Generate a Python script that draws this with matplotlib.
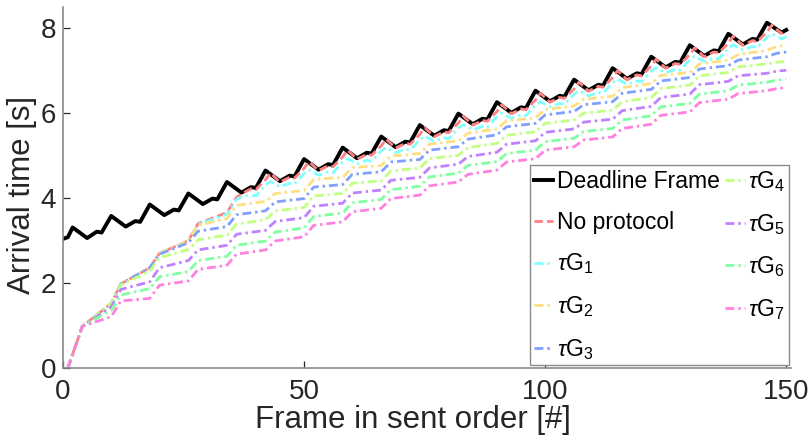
import matplotlib
matplotlib.use('Agg')
import matplotlib.pyplot as plt

plt.rcParams['font.family'] = ['Liberation Sans', 'DejaVu Sans']
plt.rcParams['mathtext.fontset'] = 'custom'
plt.rcParams['mathtext.rm'] = 'Liberation Sans'
plt.rcParams['mathtext.it'] = 'Liberation Sans:italic'

#%% Data: arrival time [s] per frame in sent order

# Deadline of each frame (GOP of 8, I-frame peaks)
deadline_frames = [0, 1, 2, 5, 7, 8,
                   10, 13, 15, 16, 18, 21, 23, 24, 26, 29, 31, 32,
                   34, 37, 39, 40, 42, 45, 47, 48, 50, 53, 55, 56,
                   58, 61, 63, 64, 66, 69, 71, 72, 74, 77, 79, 80,
                   82, 85, 87, 88, 90, 93, 95, 96, 98, 101, 103, 104,
                   106, 109, 111, 112, 114, 117, 119, 120, 122, 125, 127, 128,
                   130, 133, 135, 136, 138, 141, 143, 144, 146, 149, 150]
deadline = [3.04, 3.08, 3.31, 3.06, 3.21, 3.19,
            3.58, 3.33, 3.46, 3.44, 3.85, 3.60, 3.73, 3.71, 4.11, 3.86, 3.99, 3.97,
            4.38, 4.13, 4.26, 4.24, 4.65, 4.40, 4.53, 4.51, 4.92, 4.67, 4.80, 4.78,
            5.19, 4.94, 5.07, 5.05, 5.45, 5.20, 5.33, 5.31, 5.72, 5.47, 5.60, 5.58,
            5.99, 5.74, 5.87, 5.85, 6.26, 6.01, 6.14, 6.12, 6.53, 6.28, 6.41, 6.39,
            6.79, 6.54, 6.67, 6.65, 7.06, 6.81, 6.94, 6.92, 7.33, 7.08, 7.21, 7.19,
            7.60, 7.35, 7.48, 7.46, 7.87, 7.62, 7.75, 7.73, 8.13, 7.90, 7.96]

# No protocol and tauG1 share these frames
near_frames = [1, 4, 10, 12, 18, 20, 26, 28, 34, 36, 37, 39, 40,
               42, 43, 45, 47, 48, 50, 51, 53, 55, 56,
               58, 59, 61, 63, 64, 66, 67, 69, 71, 72,
               74, 75, 77, 79, 80, 82, 83, 85, 87, 88,
               90, 91, 93, 95, 96, 98, 99, 101, 103, 104,
               106, 107, 109, 111, 112, 114, 115, 117, 119, 120,
               122, 123, 125, 127, 128, 130, 131, 133, 135, 136,
               138, 139, 141, 143, 144, 146, 147, 149, 150]
no_protocol = [0.00, 0.98, 1.52, 1.98, 2.36, 2.70, 3.00, 3.40, 3.66, 4.02, 4.10, 4.22, 4.20,
               4.43, 4.59, 4.38, 4.49, 4.47, 4.70, 4.86, 4.65, 4.76, 4.74,
               4.97, 5.13, 4.92, 5.03, 5.01, 5.23, 5.39, 5.18, 5.29, 5.27,
               5.50, 5.66, 5.45, 5.56, 5.54, 5.77, 5.93, 5.72, 5.83, 5.81,
               6.04, 6.20, 5.99, 6.10, 6.08, 6.31, 6.47, 6.26, 6.37, 6.35,
               6.57, 6.73, 6.52, 6.63, 6.61, 6.84, 7.00, 6.79, 6.90, 6.88,
               7.11, 7.27, 7.06, 7.17, 7.15, 7.38, 7.54, 7.33, 7.44, 7.42,
               7.65, 7.81, 7.60, 7.71, 7.69, 7.91, 8.07, 7.88, 7.93]
tau_g1 = [0.00, 0.98, 1.52, 1.98, 2.36, 2.70, 3.00, 3.38, 3.62, 3.97, 4.03, 4.07, 4.05,
          4.31, 4.39, 4.27, 4.35, 4.33, 4.58, 4.66, 4.54, 4.62, 4.60,
          4.85, 4.93, 4.81, 4.89, 4.87, 5.11, 5.19, 5.07, 5.15, 5.13,
          5.38, 5.46, 5.34, 5.42, 5.40, 5.65, 5.73, 5.61, 5.69, 5.67,
          5.92, 6.00, 5.88, 5.96, 5.94, 6.19, 6.27, 6.15, 6.23, 6.21,
          6.45, 6.53, 6.41, 6.49, 6.47, 6.72, 6.80, 6.68, 6.76, 6.74,
          6.99, 7.07, 6.95, 7.03, 7.01, 7.26, 7.34, 7.22, 7.30, 7.28,
          7.53, 7.61, 7.49, 7.57, 7.55, 7.79, 7.87, 7.75, 7.80]

# tauG2..tauG7: staircase, one step per GOP
step_frames = [1, 4, 10, 12, 18, 20, 26, 28, 34, 36, 42, 44, 50, 52, 58, 60,
               66, 68, 74, 76, 82, 84, 90, 92, 98, 100, 106, 108, 114, 116,
               122, 124, 130, 132, 138, 140, 146, 148, 150]
tau_g2 = [0.00, 0.98, 1.52, 1.98, 2.36, 2.70, 3.00, 3.36, 3.52, 3.83, 3.92, 4.11, 4.18,
          4.44, 4.49, 4.72, 4.77, 4.99, 5.05, 5.27, 5.35, 5.53, 5.63, 5.82, 5.89,
          6.09, 6.17, 6.33, 6.40, 6.60, 6.70, 6.89, 6.96, 7.16, 7.25, 7.38, 7.48,
          7.57, 7.60]
tau_g3 = [0.00, 0.98, 1.52, 1.98, 2.36, 2.68, 2.95, 3.22, 3.33, 3.61, 3.70, 3.91, 3.99,
          4.26, 4.32, 4.56, 4.62, 4.85, 4.91, 5.13, 5.21, 5.39, 5.49, 5.68, 5.76,
          5.96, 6.04, 6.20, 6.27, 6.47, 6.56, 6.76, 6.84, 7.04, 7.12, 7.25, 7.33,
          7.41, 7.44]
tau_g4 = [0.00, 0.98, 1.52, 1.96, 2.28, 2.60, 2.79, 3.02, 3.13, 3.39, 3.49, 3.70, 3.78,
          4.05, 4.11, 4.35, 4.41, 4.64, 4.71, 4.93, 5.01, 5.19, 5.29, 5.48, 5.56,
          5.76, 5.84, 6.00, 6.07, 6.27, 6.37, 6.58, 6.66, 6.88, 6.96, 7.09, 7.16,
          7.20, 7.22]
tau_g5 = [0.00, 0.98, 1.44, 1.85, 2.03, 2.36, 2.53, 2.78, 2.89, 3.15, 3.24, 3.45, 3.54,
          3.81, 3.88, 4.12, 4.19, 4.42, 4.49, 4.71, 4.80, 4.98, 5.08, 5.27, 5.35,
          5.55, 5.63, 5.79, 5.86, 6.06, 6.16, 6.37, 6.45, 6.67, 6.75, 6.88, 6.94,
          6.99, 7.01]
tau_g6 = [0.00, 0.98, 1.36, 1.72, 1.87, 2.15, 2.27, 2.53, 2.63, 2.89, 2.99, 3.20, 3.30,
          3.57, 3.65, 3.89, 3.97, 4.20, 4.28, 4.50, 4.59, 4.77, 4.86, 5.05, 5.13,
          5.33, 5.41, 5.57, 5.64, 5.84, 5.94, 6.15, 6.23, 6.45, 6.53, 6.66, 6.73,
          6.78, 6.80]
tau_g7 = [0.00, 0.98, 1.21, 1.58, 1.64, 1.95, 2.05, 2.32, 2.42, 2.68, 2.78, 2.99, 3.09,
          3.36, 3.44, 3.68, 3.76, 3.99, 4.07, 4.29, 4.38, 4.56, 4.66, 4.85, 4.93,
          5.13, 5.21, 5.37, 5.44, 5.64, 5.74, 5.95, 6.03, 6.25, 6.33, 6.46, 6.53,
          6.58, 6.60]

labels = ['Deadline Frame', 'No protocol'] + [r'$\tau$G$_{%d}$' % i for i in range(1, 8)]
colors = ['#FF8080', '#80FFFF', '#FFDF80', '#80A0FF', '#C0FF80', '#C080FF', '#80FFA0', '#FF80DF']

#%% Plot
txt_col = '#262626'
fig = plt.figure(figsize=(8.11, 4.42), dpi=100)
ax = fig.add_axes([0.0777, 0.1674, 0.8977, 0.8167])

ax.plot(deadline_frames, deadline, color='black', lw=2.8, label=labels[0])
ax.plot(near_frames, no_protocol, color=colors[0], lw=2.0,
        linestyle=(0, (3.0, 1.5)), label=labels[1])

dashdot = (0, (3.2, 1.4, 0.9, 1.4))
ax.plot(near_frames, tau_g1, color=colors[1], lw=2.0, linestyle=dashdot, label=labels[2])
for series, col, lab in zip([tau_g2, tau_g3, tau_g4, tau_g5, tau_g6, tau_g7],
                            colors[2:], labels[3:]):
    ax.plot(step_frames, series, color=col, lw=2.0, linestyle=dashdot, label=lab)

ax.set_xlim(0, 151)
ax.set_ylim(0, 8.5)
ax.set_xticks([0, 50, 100, 150])
ax.set_yticks([0, 2, 4, 6, 8])

for side in ['top', 'right']:
    ax.spines[side].set_visible(False)
for side in ['left', 'bottom']:
    ax.spines[side].set_color('#8a8a8a')
    ax.spines[side].set_linewidth(1.2)

ax.tick_params(direction='in', length=5, width=0.9, color=txt_col,
               labelcolor=txt_col, labelsize=20)
ax.tick_params(axis='x', pad=8)
ax.tick_params(axis='y', pad=5)

ax.set_xlabel('Frame in sent order [#]', fontsize=22.5, color=txt_col)
ax.set_ylabel('Arrival time [s]', fontsize=22.5, color=txt_col)
ax.xaxis.set_label_coords(0.48, -0.103)
ax.yaxis.set_label_coords(-0.036, 0.48)

leg = ax.legend(loc='lower right', bbox_to_anchor=(0.997, 0.007), ncol=2,
                fontsize=16.5, handlelength=0.85, handletextpad=0.15,
                columnspacing=0.25, labelspacing=0.78, borderpad=0.15,
                borderaxespad=0, fancybox=False, framealpha=1)
leg.get_frame().set_edgecolor('#8a8a8a')
leg.get_frame().set_linewidth(1.0)
for t in leg.get_texts():
    t.set_color('black')

fig.savefig('out.png', dpi=100)
